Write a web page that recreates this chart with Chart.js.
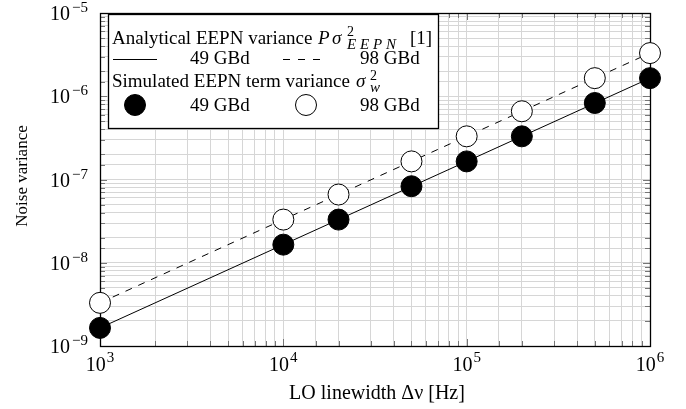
<!DOCTYPE html>
<html>
<head>
<meta charset="utf-8">
<script src="https://cdn.jsdelivr.net/npm/chart.js@4/dist/chart.umd.min.js"></script>
<style>
  html, body { margin: 0; padding: 0; background: #fff; }
  #wrap { width: 686px; height: 409px; }
</style>
</head>
<body>
<div id="wrap"><canvas id="c" width="686" height="409"></canvas></div>
<script>
// ---- data ----
const linewidthHz = [1e3, 1e4, 2e4, 5e4, 1e5, 2e5, 5e5, 1e6];
const simVar49 = [1.65e-9, 1.65e-8, 3.3e-8, 8.3e-8, 1.65e-7, 3.3e-7, 8.3e-7, 1.65e-6];
const simVar98 = [3.3e-9, 3.3e-8, 6.6e-8, 1.65e-7, 3.3e-7, 6.6e-7, 1.65e-6, 3.3e-6];
const analyticX = [1e3, 1e6];
const analytic49 = [1.65e-9, 1.65e-6];
const analytic98 = [3.3e-9, 3.3e-6];
const xTickExps = [3, 4, 5, 6];
const yTickExps = [-9, -8, -7, -6, -5];
const xTitle = 'LO linewidth \u0394\u03bd [Hz]';
const yTitle = 'Noise variance';

const SERIF = '"Liberation Serif", "DejaVu Serif", serif';

function pts(xs, ys) { return xs.map((x, i) => ({ x: x, y: ys[i] })); }

const frame = {
  id: 'frame',
  beforeDatasetsDraw(chart) {
    const ctx = chart.ctx, a = chart.chartArea;
    const xs = chart.scales.x, ys = chart.scales.y;
    ctx.save();
    ctx.strokeStyle = '#777';
    ctx.lineWidth = 1;
    ctx.beginPath();
    xs.ticks.forEach(t => {
      const px = Math.round(xs.getPixelForValue(t.value)) + 0.5;
      const len = t.major ? 7 : 5;
      ctx.moveTo(px, a.bottom); ctx.lineTo(px, a.bottom - len);
      ctx.moveTo(px, a.top); ctx.lineTo(px, a.top + len);
    });
    ys.ticks.forEach(t => {
      const py = Math.round(ys.getPixelForValue(t.value)) + 0.5;
      const len = t.major ? 7 : 5;
      ctx.moveTo(a.left, py); ctx.lineTo(a.left + len, py);
      ctx.moveTo(a.right, py); ctx.lineTo(a.right - len, py);
    });
    ctx.stroke();
    ctx.strokeStyle = '#000';
    ctx.lineWidth = 1.3;
    ctx.strokeRect(a.left + 0.5, a.top + 0.5, a.right - a.left, a.bottom - a.top);
    ctx.restore();
  },
  afterDraw(chart) {
    const ctx = chart.ctx, a = chart.chartArea;
    const xs = chart.scales.x, ys = chart.scales.y;
    ctx.save();
    ctx.fillStyle = '#000';
    const base = '20px ' + SERIF, sup = '15px ' + SERIF;
    function power(e) { return e < 0 ? '\u2212' + Math.abs(e) : String(e); }
    ctx.textBaseline = 'alphabetic';
    ctx.textAlign = 'left';
    xTickExps.forEach(e => {
      const px = xs.getPixelForValue(Math.pow(10, e));
      ctx.font = base; const w1 = ctx.measureText('10').width;
      ctx.font = sup; const w2 = ctx.measureText(power(e)).width;
      const x0 = px - (w1 + w2 + 1) / 2;
      ctx.font = base; ctx.fillText('10', x0, 371);
      ctx.font = sup; ctx.fillText(power(e), x0 + w1 + 1, 362);
    });
    yTickExps.forEach(e => {
      const py = ys.getPixelForValue(Math.pow(10, e));
      ctx.font = sup; const w2 = ctx.measureText(power(e)).width;
      ctx.font = base; const w1 = ctx.measureText('10').width;
      const xr = a.left - 12;
      ctx.font = base; ctx.fillText('10', xr - w2 - 2 - w1, py + 7);
      ctx.font = sup; ctx.fillText(power(e), xr - w2, py - 1);
    });
    // axis titles
    ctx.textAlign = 'center';
    ctx.font = '20px ' + SERIF;
    ctx.fillText(xTitle, 377, 399);
    ctx.save();
    ctx.font = '17px ' + SERIF;
    ctx.translate(27, 176);
    ctx.rotate(-Math.PI / 2);
    ctx.fillText(yTitle, 0, 0);
    ctx.restore();

    // legend
    const lx = 108.5, ly = 14.5, lw = 330, lh = 114;
    ctx.fillStyle = '#fff';
    ctx.fillRect(lx, ly, lw, lh);
    ctx.strokeStyle = '#000';
    ctx.lineWidth = 1.3;
    ctx.strokeRect(lx, ly, lw, lh);
    ctx.fillStyle = '#000';
    ctx.textAlign = 'left';
    const f = '19px ' + SERIF, fi = 'italic 19px ' + SERIF, fs = '14px ' + SERIF, fsi = 'italic 15px ' + SERIF;
    // row 1
    ctx.font = f; ctx.fillText('Analytical EEPN variance', 112, 44);
    ctx.font = fi; ctx.fillText('P', 318, 44); ctx.fillText('\u03c3', 332, 44);
    ctx.font = fs; ctx.fillText('2', 347, 36);
    ctx.font = fsi;
    ['E', 'E', 'P', 'N'].forEach((ch, i) => ctx.fillText(ch, 347 + i * 13, 49));
    ctx.font = f; ctx.fillText('[1]', 410, 44);
    // row 2
    ctx.lineWidth = 1;
    ctx.beginPath(); ctx.moveTo(113, 59.5); ctx.lineTo(157, 59.5); ctx.stroke();
    ctx.setLineDash([7, 8]);
    ctx.beginPath(); ctx.moveTo(283, 59.5); ctx.lineTo(322, 59.5); ctx.stroke();
    ctx.setLineDash([]);
    ctx.font = f;
    ctx.fillText('49 GBd', 190, 64);
    ctx.fillText('98 GBd', 360, 64);
    // row 3
    ctx.font = f; ctx.fillText('Simulated EEPN term variance', 112, 87);
    ctx.font = fi; ctx.fillText('\u03c3', 356, 87);
    ctx.font = fs; ctx.fillText('2', 370, 80);
    ctx.font = fsi; ctx.fillText('w', 370, 92);
    // row 4
    ctx.beginPath(); ctx.arc(135, 105, 10.5, 0, Math.PI * 2);
    ctx.fillStyle = '#000'; ctx.fill(); ctx.stroke();
    ctx.beginPath(); ctx.arc(306, 105, 10.5, 0, Math.PI * 2);
    ctx.fillStyle = '#fff'; ctx.fill(); ctx.strokeStyle = '#000'; ctx.stroke();
    ctx.fillStyle = '#000';
    ctx.font = f;
    ctx.fillText('49 GBd', 190, 111);
    ctx.fillText('98 GBd', 360, 111);
    ctx.restore();
  }
};

new Chart(document.getElementById('c'), {
  type: 'scatter',
  data: {
    datasets: [
      { label: 'sim49', data: pts(linewidthHz, simVar49), showLine: false, order: 0,
        pointRadius: 10.5, pointBackgroundColor: '#000', pointBorderColor: '#000', pointBorderWidth: 1, clip: false },
      { label: 'sim98', data: pts(linewidthHz, simVar98), showLine: false, order: 0,
        pointRadius: 10.5, pointBackgroundColor: '#fff', pointBorderColor: '#000', pointBorderWidth: 1, clip: false },
      { label: 'ana49', data: pts(analyticX, analytic49), showLine: true, order: 1, pointRadius: 0,
        borderColor: '#000', borderWidth: 1, clip: false },
      { label: 'ana98', data: pts(analyticX, analytic98), showLine: true, order: 1, pointRadius: 0,
        borderColor: '#000', borderWidth: 1, borderDash: [7, 7], clip: false }
    ]
  },
  options: {
    responsive: false,
    animation: false,
    devicePixelRatio: 1,
    layout: { padding: { left: 100, right: 36, top: 13, bottom: 63 } },
    plugins: { legend: { display: false }, tooltip: { enabled: false } },
    events: [],
    scales: {
      x: {
        type: 'logarithmic', min: 1e3, max: 1e6,
        ticks: { display: false },
        grid: { color: '#d6d6d6', lineWidth: 1, drawTicks: false },
        border: { display: false },
        title: { display: false }
      },
      y: {
        type: 'logarithmic', min: 1e-9, max: 1e-5,
        ticks: { display: false },
        grid: { color: '#d6d6d6', lineWidth: 1, drawTicks: false },
        border: { display: false },
        title: { display: false }
      }
    }
  },
  plugins: [frame]
});
</script>
</body>
</html>
